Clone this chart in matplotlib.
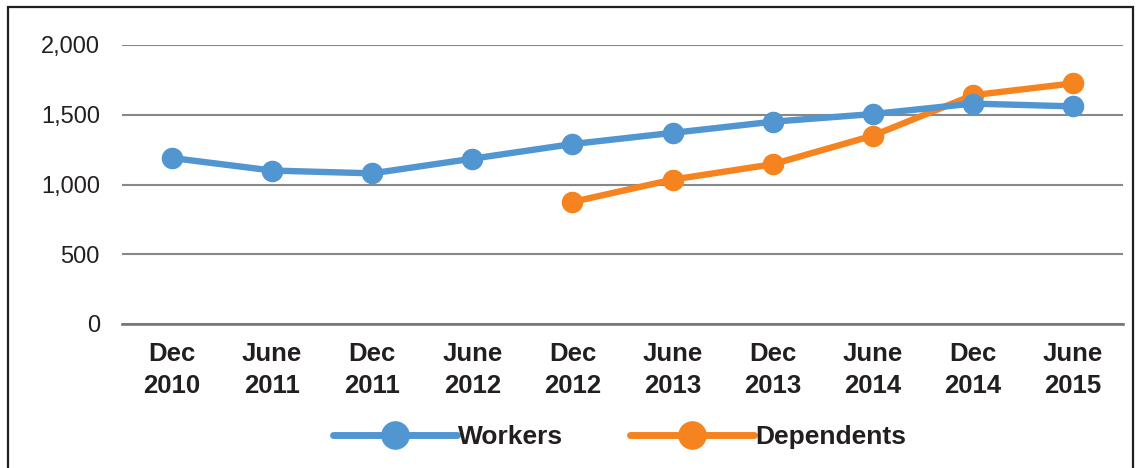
import matplotlib
matplotlib.use("Agg")
import matplotlib.pyplot as plt
from matplotlib.patches import Rectangle

categories = ["Dec\n2010", "June\n2011", "Dec\n2011", "June\n2012", "Dec\n2012",
              "June\n2013", "Dec\n2013", "June\n2014", "Dec\n2014", "June\n2015"]
workers = [1190, 1100, 1080, 1185, 1290, 1370, 1450, 1505, 1580, 1560]
dependents = [None, None, None, None, 875, 1035, 1145, 1350, 1640, 1725]
yticks = [0, 500, 1000, 1500, 2000]
ytick_labels = ["0", "500", "1,000", "1,500", "2,000"]

BLUE = "#5296D1"
ORANGE = "#F58420"
TXT = "#231F20"

plt.rcParams['font.family'] = ['Liberation Sans', 'DejaVu Sans']

fig = plt.figure(figsize=(11.38, 4.68), dpi=100)
ax = fig.add_axes([122/1138, 1 - 324/468, (1123-122)/1138, (324-45)/468])

x = [i + 0.5 for i in range(len(categories))]
wx = [xi for xi, v in zip(x, workers) if v is not None]
wy = [v for v in workers if v is not None]
dx = [xi for xi, v in zip(x, dependents) if v is not None]
dy = [v for v in dependents if v is not None]

ax.plot(wx, wy, color=BLUE, lw=4.6, marker='o', ms=14.5, solid_capstyle='round',
        label="Workers", zorder=3)
ax.plot(dx, dy, color=ORANGE, lw=4.6, marker='o', ms=14.5, solid_capstyle='round',
        label="Dependents", zorder=2)

ax.set_xlim(0, len(categories))
ax.set_ylim(0, 2000)
ax.set_yticks(yticks)
ax.set_yticklabels(ytick_labels, fontsize=17, color=TXT)
ax.set_xticks(x)
ax.set_xticklabels(categories, fontsize=18.5, fontweight='bold', color=TXT, linespacing=1.4)
ax.tick_params(axis='both', length=0)
ax.tick_params(axis='y', pad=16)
ax.tick_params(axis='x', pad=13)
for lbl in ax.get_yticklabels():
    lbl.set_va('center_baseline')
for s in ['top', 'right', 'left']:
    ax.spines[s].set_visible(False)
ax.spines['bottom'].set_color('#777777')
ax.spines['bottom'].set_linewidth(1.9)
ax.grid(axis='y', color='#888888', lw=1.5)
ax.set_axisbelow(True)

leg = ax.legend(loc='center', bbox_to_anchor=(0.497, -(437-324)/(324-45)), ncol=2,
                frameon=False, handlelength=4.7, handletextpad=0.02,
                columnspacing=2.55, markerscale=1.35,
                prop={'family': 'Liberation Sans', 'weight': 'bold', 'size': 19})
for t in leg.get_texts():
    t.set_color(TXT)
for h in leg.get_lines():
    h.set_linewidth(5)

fig.patches.append(Rectangle((8/1138, -0.1), (1133-8)/1138, 1.1 - 7.5/468,
                             transform=fig.transFigure, fill=False,
                             edgecolor='#231F20', lw=1.6))

fig.savefig("out.png", dpi=100)
